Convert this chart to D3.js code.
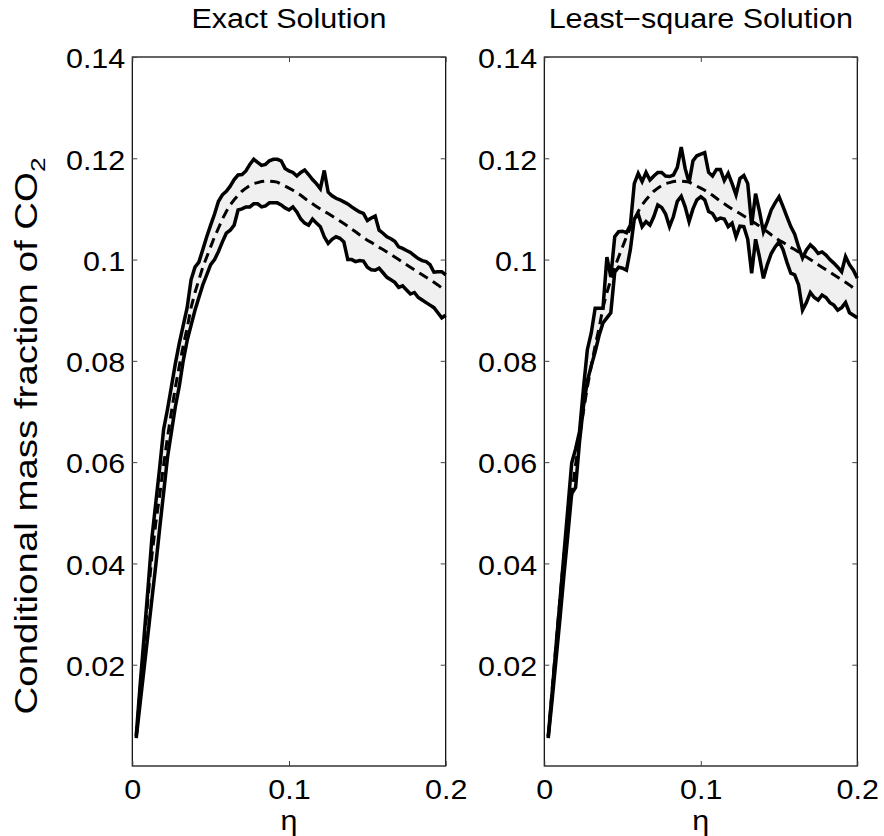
<!DOCTYPE html>
<html>
<head>
<meta charset="utf-8">
<script src="https://cdn.jsdelivr.net/npm/d3@7"></script>
<style>
  body { margin: 0; background: #fff; }
  svg { display: block; font-family: "Liberation Sans", Arial, sans-serif; }
</style>
</head>
<body>
<svg id="chart" width="884" height="836"></svg>
<script>
// mixture fraction grid
var eta = [0.0025,0.005,0.0075,0.01,0.0125,0.015,0.0175,0.02,0.0225,0.025,
  0.0275,0.03,0.0325,0.035,0.0375,0.04,0.0425,0.045,0.0475,0.05,
  0.0525,0.055,0.0575,0.06,0.0625,0.065,0.0675,0.07,0.0725,0.075,
  0.0775,0.08,0.0825,0.085,0.0875,0.09,0.0925,0.095,0.0975,0.1,
  0.1025,0.105,0.1075,0.11,0.1125,0.115,0.1175,0.12,0.1225,0.125,
  0.1275,0.13,0.1325,0.135,0.1375,0.14,0.1425,0.145,0.1475,0.15,
  0.1525,0.155,0.1575,0.16,0.1625,0.165,0.1675,0.17,0.1725,0.175,
  0.1775,0.18,0.1825,0.185,0.1875,0.19,0.1925,0.195,0.1975,0.2];

// conditional mean (dashed), same in both panels
var meanCO2 = [0.0058,0.0150,0.0240,0.0330,0.0415,0.0480,0.0535,0.0595,0.0650,0.0700,
  0.0748,0.0790,0.0830,0.0865,0.0905,0.0935,0.0960,0.0985,0.1005,0.1025,
  0.1045,0.1062,0.1080,0.1095,0.1108,0.1118,0.1127,0.1135,0.1141,0.1146,
  0.1150,0.1152,0.1154,0.1155,0.1155,0.1154,0.1153,0.1149,0.1145,0.1141,
  0.1137,0.1132,0.1127,0.1121,0.1115,0.1110,0.1105,0.1100,0.1095,0.1091,
  0.1086,0.1081,0.1076,0.1071,0.1066,0.1060,0.1055,0.1049,0.1044,0.1038,
  0.1034,0.1029,0.1024,0.1020,0.1015,0.1010,0.1005,0.1000,0.0995,0.0990,
  0.0985,0.0980,0.0975,0.0970,0.0965,0.0960,0.0955,0.0950,0.0944,0.0938];

// exact solution bounds
var exactUpper = [0.0060,0.0160,0.0255,0.0350,0.0450,0.0520,0.0590,0.0665,0.0705,0.0750,
  0.0795,0.0835,0.0870,0.0905,0.0960,0.0985,0.0995,0.1020,0.1045,0.1068,
  0.1090,0.1115,0.1128,0.1135,0.1145,0.1158,0.1167,0.1168,0.1175,0.1188,
  0.1198,0.1192,0.1186,0.1188,0.1195,0.1198,0.1198,0.1195,0.1180,0.1175,
  0.1172,0.1165,0.1172,0.1177,0.1168,0.1158,0.1150,0.1140,0.1176,0.1133,
  0.1126,0.1121,0.1118,0.1114,0.1110,0.1104,0.1099,0.1094,0.1091,0.1077,
  0.1082,0.1086,0.1058,0.1052,0.1045,0.1041,0.1036,0.1025,0.1022,0.1018,
  0.1014,0.1008,0.1002,0.0998,0.0996,0.0990,0.0975,0.0976,0.0976,0.0970];
var exactLower = [0.0055,0.0124,0.0192,0.0260,0.0329,0.0397,0.0470,0.0540,0.0610,0.0660,
  0.0710,0.0750,0.0800,0.0840,0.0870,0.0900,0.0925,0.0950,0.0970,0.0990,
  0.1000,0.1016,0.1035,0.1052,0.1058,0.1068,0.1098,0.1100,0.1104,0.1104,
  0.1110,0.1110,0.1104,0.1106,0.1112,0.1112,0.1112,0.1108,0.1102,0.1098,
  0.1104,0.1094,0.1080,0.1072,0.1068,0.1080,0.1072,0.1065,0.1045,0.1032,
  0.1040,0.1045,0.1042,0.1035,0.1000,0.1000,0.0996,0.0998,0.0997,0.0985,
  0.0980,0.0979,0.0983,0.0974,0.0965,0.0960,0.0955,0.0945,0.0948,0.0940,
  0.0932,0.0935,0.0925,0.0920,0.0915,0.0910,0.0905,0.0895,0.0885,0.0890];

// least-square solution bounds
var lsqUpper = [0.0058,0.0145,0.0236,0.0326,0.0417,0.0507,0.0598,0.0626,0.0660,0.0745,
  0.0822,0.0855,0.0904,0.0904,0.0904,0.1005,0.0966,0.1045,0.1055,0.1056,
  0.1053,0.1068,0.1150,0.1170,0.1154,0.1172,0.1157,0.1165,0.1172,0.1172,
  0.1165,0.1164,0.1167,0.1182,0.1222,0.1180,0.1152,0.1195,0.1205,0.1208,
  0.1211,0.1172,0.1165,0.1178,0.1178,0.1156,0.1170,0.1150,0.1128,0.1160,
  0.1166,0.1150,0.1068,0.1130,0.1095,0.1055,0.1075,0.1098,0.1112,0.1124,
  0.1105,0.1085,0.1065,0.1050,0.1025,0.1003,0.1019,0.1029,0.1022,0.1012,
  0.1015,0.1009,0.1000,0.0993,0.0985,0.0976,0.1006,0.0990,0.0979,0.0963];
var lsqLower = [0.0055,0.0130,0.0210,0.0290,0.0375,0.0455,0.0538,0.0550,0.0640,0.0710,
  0.0760,0.0790,0.0818,0.0850,0.0875,0.0885,0.0895,0.0975,0.0985,0.0983,
  0.0979,0.1020,0.1080,0.1090,0.1065,0.1075,0.1068,0.1085,0.1108,0.1103,
  0.1090,0.1065,0.1085,0.1115,0.1125,0.1104,0.1075,0.1100,0.1118,0.1124,
  0.1118,0.1095,0.1091,0.1078,0.1082,0.1080,0.1065,0.1072,0.1045,0.1066,
  0.1065,0.1040,0.0973,0.1040,0.1005,0.0963,0.0990,0.1012,0.1025,0.1035,
  0.1020,0.0995,0.0973,0.0970,0.0950,0.0900,0.0915,0.0935,0.0925,0.0920,
  0.0930,0.0925,0.0915,0.0910,0.0900,0.0905,0.0915,0.0895,0.0890,0.0885];

var xTicks = [0, 0.1, 0.2];
var yTicks = [0.02, 0.04, 0.06, 0.08, 0.1, 0.12, 0.14];

var panels = [
  { title: 'Exact Solution', upper: exactUpper, lower: exactLower, left: 132.3, right: 445.7 },
  { title: 'Least\u2212square Solution', upper: lsqUpper, lower: lsqLower, left: 544.3, right: 857.3 }
];

var TOP = 57, BOTTOM = 766;
var FONT = 27, STRETCH = 1.13;   // glyphs in the original are a bit wider than Arial

var svg = d3.select('#chart');
var y = d3.scaleLinear().domain([0, 0.14]).range([BOTTOM, TOP]);

function stretchText(sel) {
  sel.style('font-size', FONT + 'px').attr('fill', '#000')
    .attr('transform', 'scale(' + STRETCH + ',1)');
}

panels.forEach(function (p) {
  var x = d3.scaleLinear().domain([0, 0.2]).range([p.left, p.right]);
  var g = svg.append('g');
  var idx = d3.range(eta.length);

  // band between bounds
  var area = d3.area()
    .x(function (i) { return x(eta[i]); })
    .y0(function (i) { return y(p.lower[i]); })
    .y1(function (i) { return y(p.upper[i]); });
  g.append('path').datum(idx).attr('d', area).attr('fill', '#f0f0f0');

  function line(vals) {
    return d3.line()
      .x(function (i) { return x(eta[i]); })
      .y(function (i) { return y(vals[i]); })(idx);
  }

  g.append('path').attr('d', line(p.upper))
    .attr('fill', 'none').attr('stroke', '#000').attr('stroke-width', 3.5);
  g.append('path').attr('d', line(p.lower))
    .attr('fill', 'none').attr('stroke', '#000').attr('stroke-width', 3.5);
  g.append('path').attr('d', line(meanCO2))
    .attr('fill', 'none').attr('stroke', '#000').attr('stroke-width', 3)
    .attr('stroke-dasharray', '10,6');

  // box
  g.append('rect')
    .attr('x', p.left).attr('y', TOP)
    .attr('width', p.right - p.left).attr('height', BOTTOM - TOP)
    .attr('fill', 'none').attr('stroke', '#000').attr('stroke-width', 1.2);

  // axes with inward ticks
  var ax = g.append('g').attr('transform', 'translate(0,' + BOTTOM + ')')
    .call(d3.axisBottom(x).tickValues(xTicks).tickSizeInner(-5).tickSizeOuter(0)
      .tickPadding(14).tickFormat(d3.format('')));
  ax.select('.domain').remove();
  ax.selectAll('line').attr('stroke', '#444');
  ax.selectAll('text').call(stretchText);

  var at = g.append('g').attr('transform', 'translate(0,' + TOP + ')')
    .call(d3.axisTop(x).tickValues(xTicks).tickSizeInner(-5).tickSizeOuter(0).tickFormat(''));
  at.select('.domain').remove();
  at.selectAll('line').attr('stroke', '#444');

  var ay = g.append('g').attr('transform', 'translate(' + p.left + ',0)')
    .call(d3.axisLeft(y).tickValues(yTicks).tickSizeInner(-5).tickSizeOuter(0)
      .tickPadding(7 / STRETCH).tickFormat(d3.format('')));
  ay.select('.domain').remove();
  ay.selectAll('line').attr('stroke', '#444');
  ay.selectAll('text').call(stretchText).attr('dy', '0.4em');

  var ar = g.append('g').attr('transform', 'translate(' + p.right + ',0)')
    .call(d3.axisRight(y).tickValues(yTicks).tickSizeInner(-5).tickSizeOuter(0).tickFormat(''));
  ar.select('.domain').remove();
  ar.selectAll('line').attr('stroke', '#444');

  var cx = (p.left + p.right) / 2;
  svg.append('text')
    .attr('transform', 'translate(' + cx + ',28) scale(' + STRETCH + ',1)')
    .attr('text-anchor', 'middle').style('font-size', FONT + 'px')
    .text(p.title);

  svg.append('text')
    .attr('transform', 'translate(' + cx + ',830) scale(' + STRETCH + ',1)')
    .attr('text-anchor', 'middle').style('font-size', FONT + 'px')
    .text('\u03b7');
});

// y label with subscript
var yl = svg.append('text')
  .attr('transform', 'translate(37,436) rotate(-90) scale(1.24,1)')
  .attr('text-anchor', 'middle').style('font-size', '31px');
yl.append('tspan').text('Conditional mass fraction of CO');
yl.append('tspan').attr('dy', 8).style('font-size', '21px').text('2');
</script>
</body>
</html>
